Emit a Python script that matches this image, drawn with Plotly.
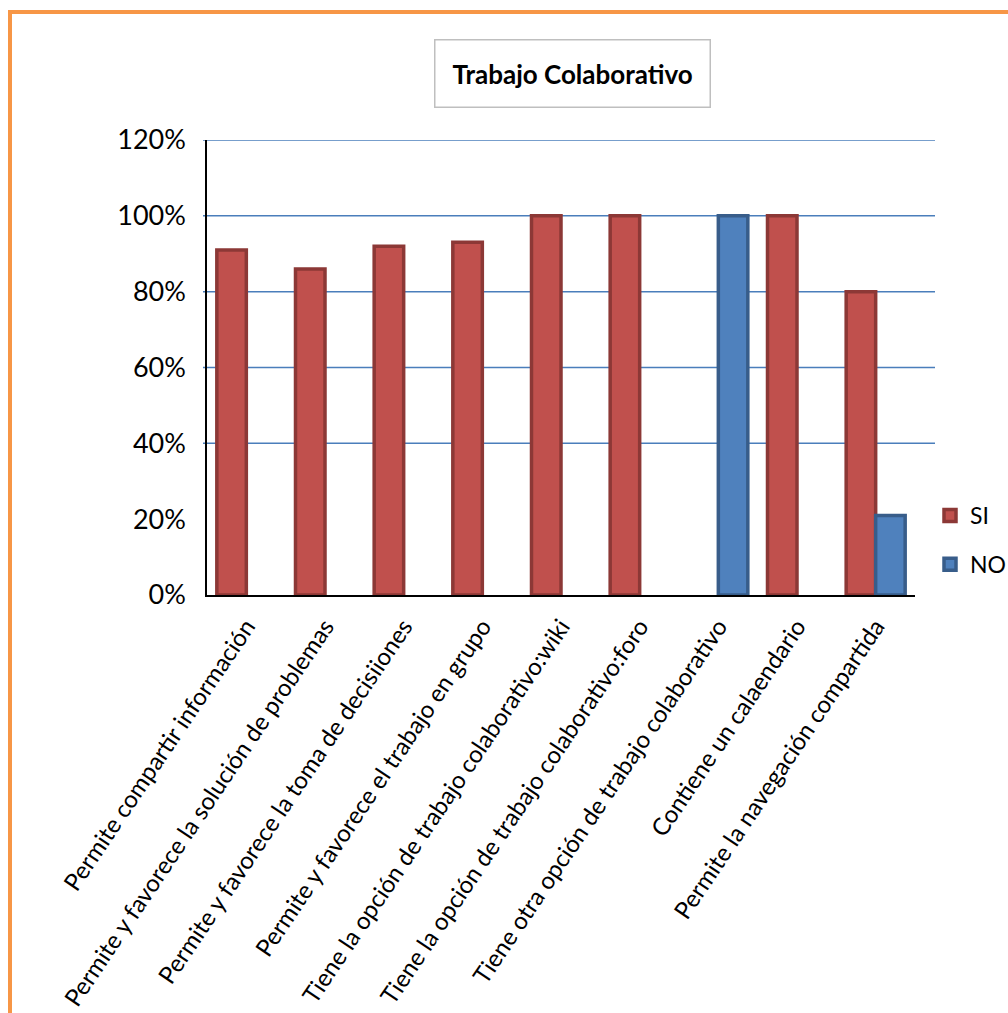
import plotly.graph_objects as go

categories = [
    "Permite compartir información",
    "Permite y favorece la solución de problemas",
    "Permite y favorece la toma de decisiiones",
    "Permite y favorece el trabajo en grupo",
    "Tiene la opción de trabajo colaborativo:wiki",
    "Tiene la opción de trabajo colaborativo:foro",
    "Tiene otra opción de trabajo colaborativo",
    "Contiene un calaendario",
    "Permite la navegación compartida",
]
si_values = [0.91, 0.86, 0.92, 0.93, 1.00, 1.00, None, 1.00, 0.80]
no_values = [None, None, None, None, None, None, 1.00, None, 0.21]
grid_values = [0.4, 0.6, 0.8, 1.0, 1.2]
title_text = "Trabajo Colaborativo"

W, H = 1008, 1013
L, R, T, B = 207, 93, 140, 418
plot_w = W - L - R
plot_h = H - T - B

def px_x(px):
    return (px - L) / plot_w

def px_y(py):
    return (H - B - py) / plot_h

narrow = "Lato, Open Sans, sans-serif"
label_font = "Lato, Open Sans, sans-serif"

fig = go.Figure()
fig.add_trace(go.Bar(
    x=categories, y=si_values, name="SI", legendgroup="si",
    marker=dict(color="#C0504D", line=dict(color="#8C3836", width=3.5)),
))
fig.add_trace(go.Bar(
    x=categories, y=no_values, name="NO", legendgroup="no",
    marker=dict(color="#4F81BD", line=dict(color="#385D8A", width=3.5)),
))

shapes = []
for g in grid_values:
    shapes.append(dict(type="line", xref="paper", yref="y", x0=px_x(203), x1=px_x(935),
                       y0=g, y1=g, line=dict(color="#4A7EBB", width=1.5), layer="below"))
# orange frame
shapes.append(dict(type="line", xref="paper", yref="paper", x0=px_x(8), x1=px_x(1010),
                   y0=px_y(12), y1=px_y(12), line=dict(color="#F79646", width=4)))
shapes.append(dict(type="line", xref="paper", yref="paper", x0=px_x(10), x1=px_x(10),
                   y0=px_y(10), y1=px_y(1015), line=dict(color="#F79646", width=4)))

fig.update_layout(
    width=W, height=H,
    margin=dict(l=L, r=R, t=T, b=B, autoexpand=False),
    paper_bgcolor="white", plot_bgcolor="white",
    barmode="group", bargap=0.25, bargroupgap=0.0,
    shapes=shapes,
    showlegend=True,
    legend=dict(x=px_x(930), y=px_y(494), xanchor="left", yanchor="top",
                font=dict(family=narrow, size=23, color="black"),
                tracegroupgap=16, bgcolor="rgba(0,0,0,0)"),
    annotations=[dict(text="<b>" + title_text + "</b>", xref="paper", yref="paper",
                      x=px_x(572), y=px_y(73), xanchor="center", yanchor="middle",
                      showarrow=False,
                      font=dict(family=narrow, size=26, color="black"),
                      bordercolor="#BFBFBF", borderwidth=1.5, borderpad=17,
                      bgcolor="white")],
)
fig.update_yaxes(range=[0, 1.2], dtick=0.2, tickformat=".0%", showgrid=False,
                 showline=True, linecolor="black", linewidth=1.5, zeroline=False,
                 ticklabelstandoff=14,
                 tickfont=dict(family=narrow, size=27, color="black"))
fig.update_xaxes(showgrid=False, showline=True, linecolor="black", linewidth=2,
                 tickangle=-56, ticklabelstandoff=6,
                 tickfont=dict(family=label_font, size=24, color="black"))

fig.write_html("out.html")
